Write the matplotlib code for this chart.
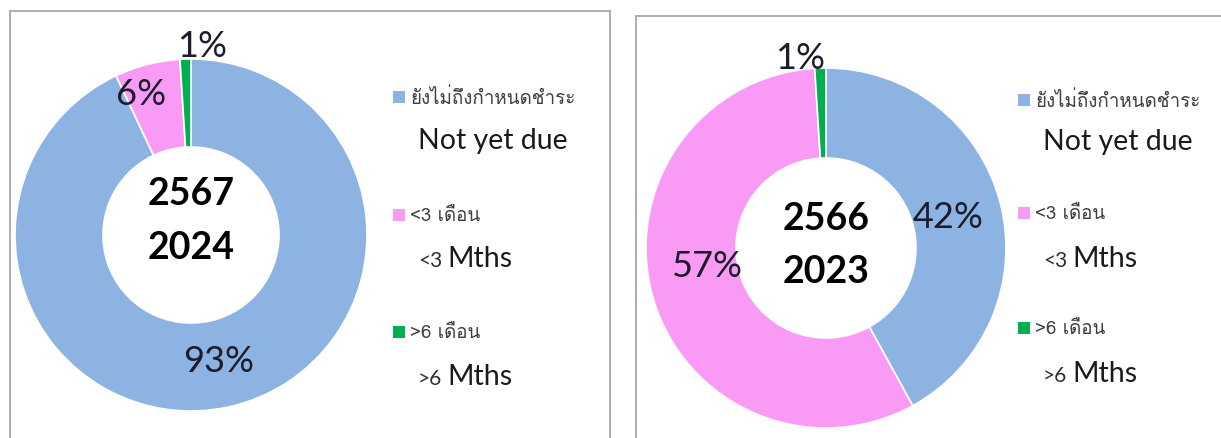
import matplotlib
matplotlib.use("Agg")
import numpy as np
import matplotlib.pyplot as plt
from matplotlib import font_manager
from matplotlib.patches import Rectangle

# data
categories_th = ["ยังไม่ถึงกำหนดชำระ", "<3 เดือน", ">6 เดือน"]
categories_en = ["Not yet due", "Mths", "Mths"]
categories_pre = ["", "<3", ">6"]
years_2024 = ["2567", "2024"]
years_2023 = ["2566", "2023"]
share_2024 = [93, 6, 1]
share_2023 = [42, 57, 1]
colors = ["#8DB3E2", "#F99BF5", "#00B050"]


def thai_family():
    try:
        from fontTools.ttLib import TTFont
    except Exception:
        return None
    for f in font_manager.fontManager.ttflist:
        try:
            cmap = TTFont(f.fname, fontNumber=0, lazy=True).getBestCmap()
        except Exception:
            continue
        if cmap and ord("ย") in cmap:
            return f.name
    return None


th = thai_family()
fam = ["Lato", "DejaVu Sans"]
fam_th = ([th] if th else []) + fam

W, H = 1221, 439
fig = plt.figure(figsize=(W / 100, H / 100), dpi=100)
fig.patch.set_facecolor("white")


def px(x, y):
    return x / W, 1 - y / H


def donut(cx, cy, r, values, years, lab_pos, yoff):
    ax = fig.add_axes([(cx - r) / W, 1 - (cy + r) / H, 2 * r / W, 2 * r / H])
    wedges, _ = ax.pie(values, colors=colors, startangle=90, counterclock=False,
                       wedgeprops=dict(width=0.5, edgecolor="white", linewidth=1.2))
    ax.set_xlim(-1, 1)
    ax.set_ylim(-1, 1)
    ax.set_aspect("equal")
    ax.axis("off")
    for w, v, (rr, shift) in zip(wedges, values, lab_pos):
        ang = np.deg2rad((w.theta1 + w.theta2) / 2 + shift)
        ax.text(rr * np.cos(ang), rr * np.sin(ang), f"{v}%", ha="center", va="center",
                fontsize=26, color="#1c1c2c", family=fam, clip_on=False)
    ax.text(0, yoff, "\n".join(years), ha="center", va="center", fontsize=27,
            fontweight="bold", color="black", family=fam, linespacing=1.7)
    return ax


def legend(x, ys_sq, ys_en):
    for i in range(3):
        sx, sy = px(x, ys_sq[i] + 6)
        fig.add_artist(Rectangle((sx, sy), 12 / W, 12 / H, transform=fig.transFigure,
                                 facecolor=colors[i], edgecolor="none"))
        tx, ty = px(x + 17, ys_sq[i])
        fig.text(tx, ty, categories_th[i], ha="left", va="center", fontsize=13.5,
                 color="#404040", family=fam_th)
        ex, ey = px(x + 25, ys_en[i] + 7)
        if categories_pre[i]:
            fig.text(ex, ey, categories_pre[i], ha="left", va="baseline",
                     fontsize=15, color="#303030", family=fam)
            ex, _ = px(x + 54, ys_en[i])
        fig.text(ex, ey, categories_en[i], ha="left", va="baseline", fontsize=20.5,
                 color="#1a1a1a", family=fam)


# panel frames
for (x0, y0, x1) in [(10, 12, 610), (636, 17, 1235)]:
    bx, by = px(x0, 445)
    fig.add_artist(Rectangle((bx, by), (x1 - x0) / W, (445 - y0) / H,
                             transform=fig.transFigure, facecolor="none",
                             edgecolor="#A0A0A0", linewidth=1.2))

donut(191, 236, 176, share_2024, years_2024, [(0.73, 0), (0.85, 5), (1.08, -5)], 0.085)
donut(826, 249, 180, share_2023, years_2023, [(0.7, 0), (0.67, -8), (1.07, 6)], 0.02)

legend(393, [98, 216, 333], [142, 260, 378])
legend(1018, [101, 214, 329], [143, 260, 375])

fig.savefig("out.png", dpi=100, facecolor="white")
